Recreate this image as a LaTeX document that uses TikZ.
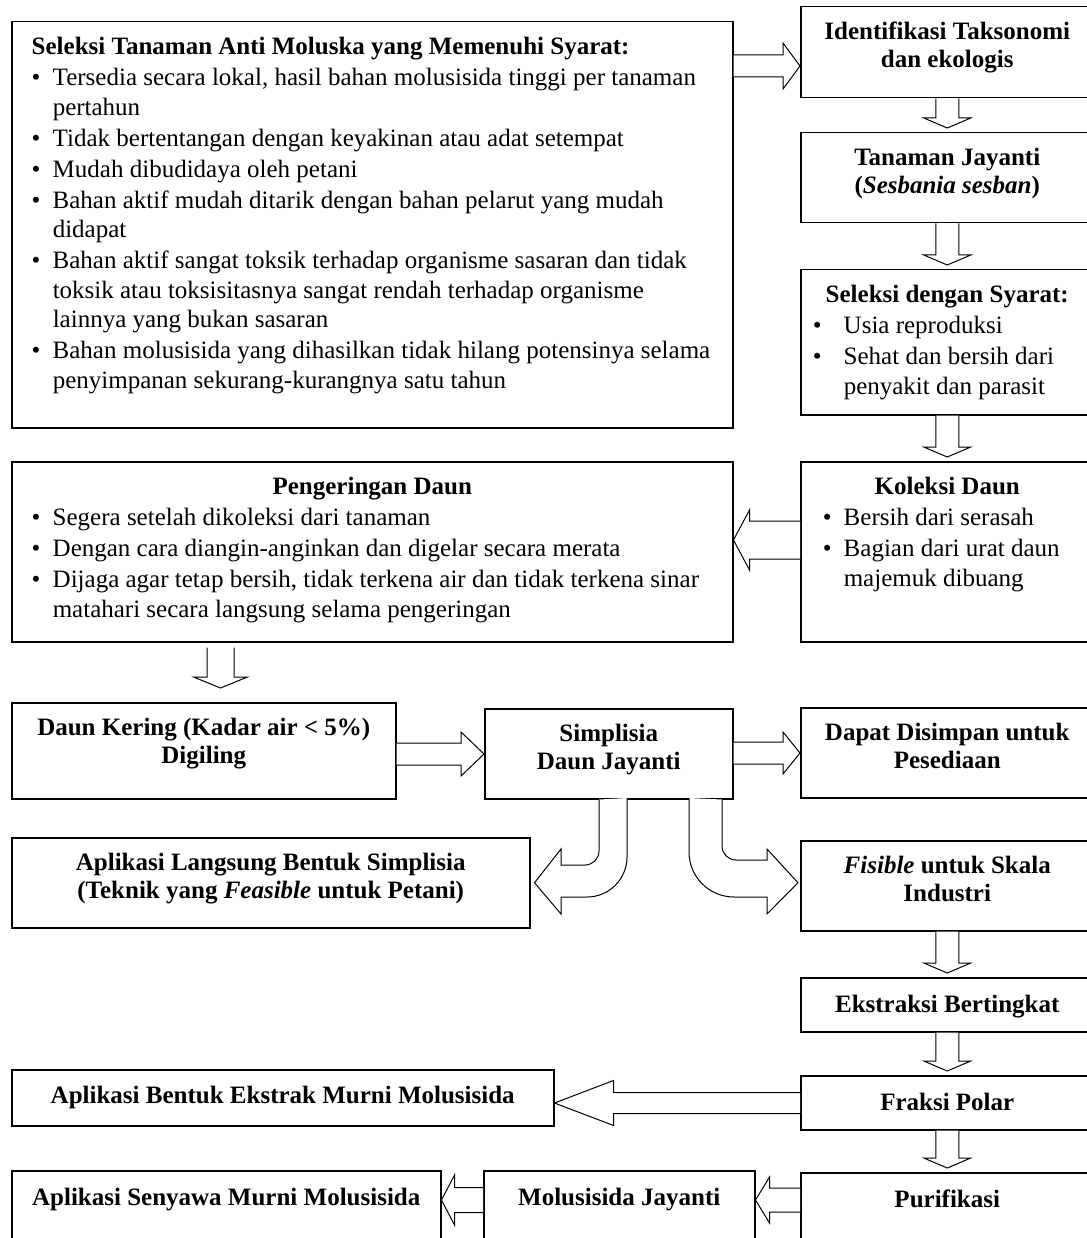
\documentclass[tikz,border=0pt]{standalone}
\usepackage{fontspec}
\setmainfont{Liberation Serif}
\usetikzlibrary{calc}

\newlength{\bulx}
\newlength{\txtx}
\newcommand{\cbox}[4][33]{\begin{minipage}[c][#3pt][t]{#2pt}\centering\rule{0pt}{#1pt}#4\end{minipage}}
\newcommand{\lbox}[5]{\begin{minipage}[c][#2pt][t]{#1pt}\setlength{\bulx}{#3pt}\setlength{\txtx}{#4pt}%
  \fontsize{25}{29.5}\selectfont\mdseries\setlength{\parskip}{1.5pt}\raggedright\hyphenpenalty=10000 #5\end{minipage}}
\newcommand{\ltitle}[1]{\noindent\hspace*{\bulx}\rule{0pt}{33pt}\textbf{#1}\par}
\newcommand{\ctitle}[1]{\noindent\makebox[\linewidth]{\rule{0pt}{33pt}\textbf{#1}}\par}
\newcommand{\itm}[1]{{\leftskip=\txtx\noindent\hspace*{\dimexpr\bulx-\txtx\relax}\makebox[\dimexpr\txtx-\bulx\relax][l]{\textbullet}#1\par}}
% block arrow: from, to, half shaft, half head, head length
\newcommand{\barrow}[5]{\draw[blockarrow] ($(#1)!#3pt!90:(#2)$) -- ($(#2)!#5pt!(#1)!#3pt!90:(#2)$) -- ($(#2)!#5pt!(#1)!#4pt!90:(#2)$) -- (#2)
  -- ($(#2)!#5pt!(#1)!#4pt!-90:(#2)$) -- ($(#2)!#5pt!(#1)!#3pt!-90:(#2)$) -- ($(#1)!#3pt!-90:(#2)$);}

\begin{document}
\begin{tikzpicture}[x=1pt, y=1pt,
    stage/.style={draw, line width=1.5pt, inner sep=0pt, anchor=north west, font=\fontsize{25}{28}\selectfont\bfseries},
    blockarrow/.style={draw, line width=1pt, fill=white, line join=miter}
]
\useasboundingbox (0,0) rectangle (1086,-1238);

\node[stage] (sel) at (11,-21) {\lbox{721}{406}{20}{41}{%
  \ltitle{Seleksi Tanaman Anti Moluska yang Memenuhi Syarat:}
  \itm{Tersedia secara lokal, hasil bahan molusisida tinggi per tanaman\newline pertahun}
  \itm{Tidak bertentangan dengan keyakinan atau adat setempat}
  \itm{Mudah dibudidaya oleh petani}
  \itm{Bahan aktif mudah ditarik dengan bahan pelarut yang mudah\newline didapat}
  \itm{Bahan aktif sangat toksik terhadap organisme sasaran dan tidak\newline toksik atau toksisitasnya sangat rendah terhadap organisme\newline lainnya yang bukan sasaran}
  \itm{Bahan molusisida yang dihasilkan tidak hilang potensinya selama\newline penyimpanan sekurang-kurangnya satu tahun}}};
\node[stage] (ident) at (800,-6) {\cbox{293}{91}{Identifikasi Taksonomi\\dan ekologis}};
\node[stage] (tan) at (800,-132) {\cbox{293}{90}{Tanaman Jayanti\\(\textit{Sesbania sesban})}};
\node[stage] (syarat) at (800,-269) {\lbox{293}{145}{12}{43}{%
  \ctitle{Seleksi dengan Syarat:}
  \itm{Usia reproduksi}
  \itm{Sehat dan bersih dari\newline penyakit dan parasit}}};
\node[stage] (kol) at (800,-461) {\lbox{293}{180}{22}{43}{%
  \ctitle{Koleksi Daun}
  \itm{Bersih dari serasah}
  \itm{Bagian dari urat daun\newline majemuk dibuang}}};
\node[stage] (keri) at (11,-461) {\lbox{721}{180}{20}{41}{%
  \ctitle{Pengeringan Daun}
  \itm{Segera setelah dikoleksi dari tanaman}
  \itm{Dengan cara diangin-anginkan dan digelar secara merata}
  \itm{Dijaga agar tetap bersih, tidak terkena air dan tidak terkena sinar\newline matahari secara langsung selama pengeringan}}};
\node[stage] (kering) at (11,-702) {\cbox{384}{96}{Daun Kering (Kadar air < 5\%)\\Digiling}};
\node[stage] (simp) at (484,-708) {\cbox{248}{90}{Simplisia\\Daun Jayanti}};
\node[stage] (simpan) at (800,-707) {\cbox{293}{90}{Dapat Disimpan untuk\\Pesediaan}};
\node[stage] (langsung) at (11,-837) {\cbox{518}{90}{Aplikasi Langsung Bentuk Simplisia\\(Teknik yang \textit{Feasible} untuk Petani)}};
\node[stage] (industri) at (800,-840) {\cbox{293}{90}{\textit{Fisible} untuk Skala\\Industri}};
\node[stage] (ekstr) at (800,-977) {\cbox[35]{293}{54}{Ekstraksi Bertingkat}};
\node[stage] (fraksi) at (800,-1075) {\cbox[35]{293}{54}{Fraksi Polar}};
\node[stage] (purif) at (800,-1172) {\cbox[35]{293}{70}{Purifikasi}};
\node[stage] (moljay) at (483,-1170) {\cbox[35]{271}{72}{Molusisida Jayanti}};
\node[stage] (ekstrak) at (11,-1069) {\cbox[34]{542}{56}{Aplikasi Bentuk Ekstrak Murni Molusisida}};
\node[stage] (senyawa) at (11,-1170) {\cbox[35]{429}{72}{Aplikasi Senyawa Murni Molusisida}};

\coordinate (a1) at ($(sel.north east)+(0,-45)$);
\coordinate (k1) at ($(kol.north west)+(0,-79)$);
\coordinate (p1) at ($(keri.south west)+(209.5,-5)$);
\coordinate (g1) at ($(kering.north east)+(0,-52)$);
\coordinate (h1) at ($(simp.north east)+(0,-45)$);
\coordinate (f1) at ($(fraksi.north west)+(0,-28)$);
\coordinate (u1) at ($(purif.north west)+(0,-28)$);
\coordinate (m1) at ($(moljay.north west)+(0,-30)$);

\barrow{a1}{a1 -| ident.west}{11}{23}{17}
\barrow{ident.south}{[yshift=4pt]tan.north}{11.5}{23.5}{10}
\barrow{tan.south}{[yshift=4pt]syarat.north}{11.5}{23.5}{10}
\barrow{syarat.south}{[yshift=4pt]kol.north}{11.5}{23.5}{10}
\barrow{k1}{k1 -| keri.east}{19}{30}{16}
\barrow{p1}{[yshift=14pt]p1 |- kering.north}{13.5}{27}{11}
\barrow{g1}{g1 -| simp.west}{11}{22}{23}
\barrow{h1}{h1 -| simpan.west}{11}{21}{17}
\barrow{industri.south}{[yshift=4pt]ekstr.north}{11.5}{23.5}{10}
\barrow{ekstr.south}{[yshift=4pt]fraksi.north}{11.5}{23.5}{10}
\barrow{fraksi.south}{[yshift=4pt]purif.north}{11.5}{23.5}{10}
\barrow{f1}{f1 -| ekstrak.east}{10.5}{22.5}{59}
\barrow{u1}{u1 -| moljay.east}{12}{23}{14}
\barrow{m1}{m1 -| senyawa.east}{12.5}{25}{13}

\coordinate (s1) at ($(simp.south west)+(115,0)$);
\coordinate (s2) at ($(simp.south west)+(238,0)$);
\draw[blockarrow] (s1) -- (599,-851) arc[start angle=0, end angle=-90, radius=14pt] -- (561,-865) -- (561,-849)
  -- ($(langsung.east)+(4,0)$) -- (561,-914) -- (561,-897) -- (587,-897) arc[start angle=-90, end angle=0, radius=40pt] -- (627,-798);
\draw[blockarrow] (s2) -- (722,-846) arc[start angle=180, end angle=270, radius=14pt] -- (767,-860) -- (767,-849)
  -- ($(industri.west)+(-2,3)$) -- (767,-914) -- (767,-897) -- (734,-897) arc[start angle=270, end angle=180, radius=45pt] -- (689,-798);

\end{tikzpicture}
\end{document}
